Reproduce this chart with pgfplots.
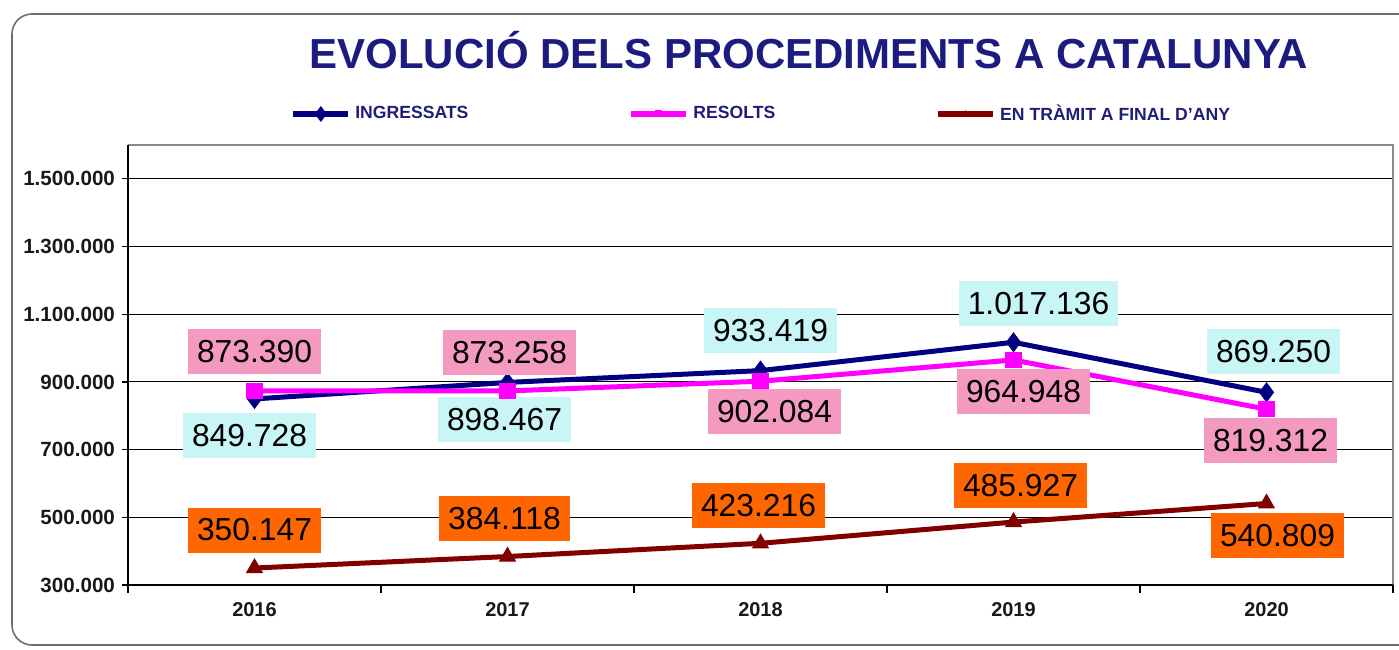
\documentclass[border=0pt]{standalone}
\usepackage{pgfplots}
\pgfplotsset{compat=1.18}
\usepackage{pgfplotstable}
\usepackage{fontspec}
\setmainfont{Liberation Sans}
\definecolor{navyline}{RGB}{0,0,128}
\definecolor{magline}{RGB}{255,0,255}
\definecolor{redline}{RGB}{128,0,0}
\definecolor{titlecol}{RGB}{28,28,128}
\definecolor{legcol}{RGB}{30,30,120}
\definecolor{cyanlab}{RGB}{200,245,245}
\definecolor{pinklab}{RGB}{244,154,193}
\definecolor{orangelab}{RGB}{255,102,0}
\definecolor{framegray}{RGB}{110,110,110}

\pgfplotstableread{
x y dx dy lab
0 849728 -2.5 -18.5 849.728
1 898467 -1.5 -18.5 898.467
2 933419 5 20 933.419
3 1017136 12.5 19.5 1.017.136
4 869250 3.5 20.5 869.250
}\ingressats
\pgfplotstableread{
x y dx dy lab
0 873390 0 19.75 873.390
1 873258 1 19 873.258
2 902084 7 -15 902.084
3 964948 5 -15.7 964.948
4 819312 2 -15.6 819.312
}\resolts
\pgfplotstableread{
x y dx dy lab
0 350147 0 19 350.147
1 384118 -1.5 18.8 384.118
2 423216 -1 18.7 423.216
3 485927 3.5 18.5 485.927
4 540809 5.5 -16 540.809
}\entramit

\begin{document}
\begin{tikzpicture}
\begin{axis}[
  scale only axis,
  width=632.5pt, height=220pt,
  xmin=-0.5, xmax=4.5,
  ymin=300000, ymax=1600000,
  xtick={0,1,2,3,4},
  xticklabels={2016,2017,2018,2019,2020},
  minor xtick={-0.5,0.5,1.5,2.5,3.5,4.5},
  ytick={300000,500000,700000,900000,1100000,1300000,1500000},
  scaled y ticks=false,
  /pgf/number format/.cd, 1000 sep={.}, fixed, assume math mode=true,
  /pgfplots/.cd,
  tick pos=left,
  tick align=outside,
  major tick length=3pt,
  minor tick length=4pt,
  major x tick style={draw=none},
  tick style={black, line width=0.6pt},
  ymajorgrids=true,
  grid style={black, line width=0.5pt},
  axis line style={draw=none},
  tick label style={font=\bfseries\fontsize{10.3}{12}\selectfont, text=black!90},
  xticklabel style={font=\bfseries\fontsize{10}{12}\selectfont, yshift=-2pt},
  title={\fontsize{21}{25}\selectfont\bfseries EVOLUCIÓ DELS PROCEDIMENTS A CATALUNYA},
  title style={at={(0.538,1.189)}, anchor=center, text=titlecol, inner sep=0pt},
  legend columns=3,
  legend style={at={(0.128,1.0705)}, anchor=west, draw=none, fill=none,
    font=\bfseries\fontsize{8.8}{10}\selectfont, text=legcol, inner sep=0pt,
    /tikz/every even column/.append style={column sep=78pt}},
  legend cell align=left,
  legend image code/.code={%
    \draw[#1, line width=3pt, mark repeat=2, mark phase=2, mark size=1.5pt] plot coordinates {(0pt,0pt) (13.75pt,0pt) (27.5pt,0pt)};},
  clip=false,
  nodes near coords,
  point meta=explicit symbolic,
  visualization depends on={\thisrow{dx} \as \dx},
  visualization depends on={\thisrow{dy} \as \dy},
  every node near coord/.append style={anchor=center, xshift=\dx pt, yshift=\dy pt,
    font=\fontsize{15.9}{18}\selectfont, text=black, inner xsep=4.5pt, inner ysep=0pt,
    minimum height=22.5pt},
]
\addplot[navyline, line width=2.5pt, mark=diamond*, mark size=3pt,
  every node near coord/.append style={fill=cyanlab}]
  table[x=x, y=y, meta=lab] {\ingressats};
\addlegendentry{INGRESSATS}
\addplot[magline, line width=2.5pt, mark=square*, mark size=3.8pt,
  mark options={line width=0.5pt},
  every node near coord/.append style={fill=pinklab}]
  table[x=x, y=y, meta=lab] {\resolts};
\addlegendentry{RESOLTS}
\addplot[redline, line width=2.5pt, mark=triangle*, mark size=4.5pt,
  mark options={line width=0.5pt},
  every node near coord/.append style={fill=orangelab}]
  table[x=x, y=y, meta=lab] {\entramit};
\addlegendentry{EN TRÀMIT A FINAL D'ANY}
\coordinate (sw) at (rel axis cs:0,0);
\coordinate (ne) at (rel axis cs:1,1);
\draw[black!45, line width=1pt] (rel axis cs:0,1) -- (rel axis cs:1,1) -- (rel axis cs:1,0);
\draw[black, line width=1pt] (rel axis cs:0,1) -- (rel axis cs:0,0) -- (rel axis cs:1,0);
\end{axis}
\draw[framegray, line width=0.8pt, rounded corners=10pt]
  ([xshift=-58pt, yshift=-30pt]sw) rectangle ([xshift=40pt, yshift=65.5pt]ne);
\pgfresetboundingbox
\path[use as bounding box] ([xshift=-64pt, yshift=-32pt]sw) rectangle ([xshift=3pt, yshift=72.5pt]ne);
\end{tikzpicture}
\end{document}
